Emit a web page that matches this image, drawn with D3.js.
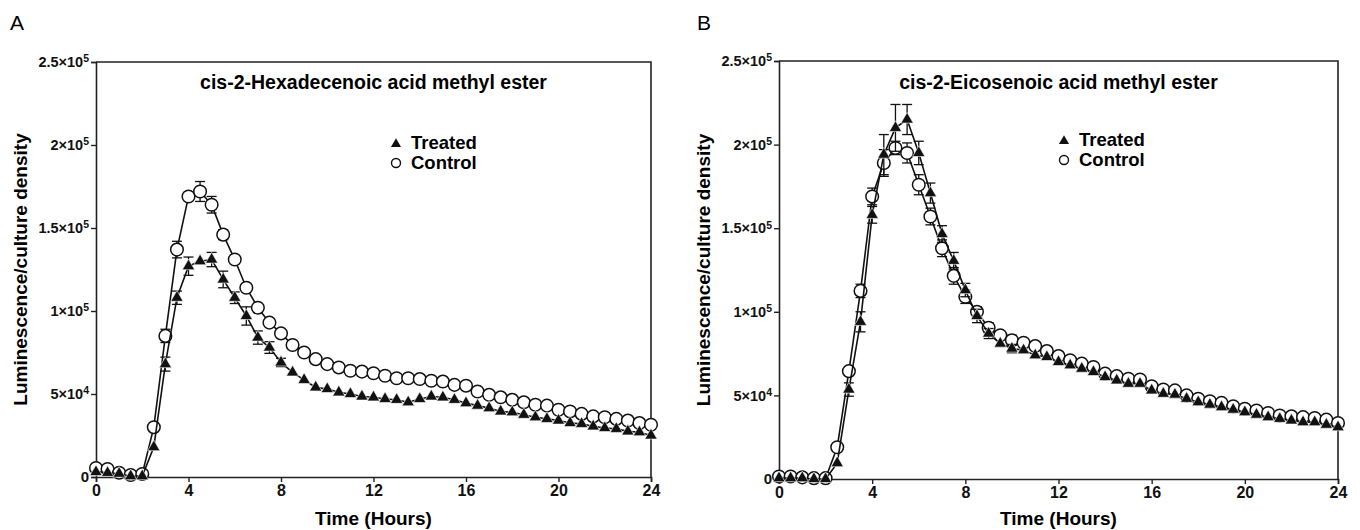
<!DOCTYPE html>
<html>
<head>
<meta charset="utf-8">
<script src="https://cdn.jsdelivr.net/npm/d3@7"></script>
<style>
  body { margin: 0; background: #fff; }
  text { font-family: "Liberation Sans", Arial, sans-serif; }
</style>
</head>
<body>
<div class="chart"></div>
<script>
// time points, every half hour
var hours = d3.range(0, 24.5, 0.5);
var xTicks = [0, 4, 8, 12, 16, 20, 24];
var yTicks = [0, 50000, 100000, 150000, 200000, 250000];
var yTickLabels = [["0", ""], ["5×10", "4"], ["1×10", "5"], ["1.5×10", "5"], ["2×10", "5"], ["2.5×10", "5"]];

// panel A: cis-2-Hexadecenoic acid methyl ester
var aTreated = [3000, 2500, 2000, 500, 500, 18000, 68000, 108000, 127000, 130000, 131000, 119000,
  108000, 97000, 84000, 78000, 69000, 63000, 58500, 54000, 53000, 51000, 50000, 48500,
  48000, 47000, 46500, 45000, 47000, 48500, 48000, 46500, 44500, 43000, 41500, 39500,
  39000, 37500, 36000, 35000, 34000, 32500, 32000, 30500, 29500, 29000, 27500, 27000, 25000];
var aTreatedErr = [0, 0, 0, 0, 0, 0, 4200, 4000, 5500, 0, 4300, 5000,
  3500, 5500, 4000, 3500, 2500, 0, 0, 0, 0, 0, 0, 0,
  0, 0, 0, 0, 0, 0, 0, 0, 0, 0, 0, 0,
  0, 0, 0, 0, 0, 0, 0, 0, 0, 0, 0, 0, 0];
var aControl = [5400, 4800, 2600, 1200, 1800, 30000, 85000, 137000, 169000, 172000, 164000, 146000,
  131000, 114000, 102000, 93000, 86500, 79500, 75000, 71000, 68000, 66000, 64000, 63500,
  62500, 61000, 59500, 59500, 59000, 58000, 57500, 55500, 55000, 51500, 49500, 48000,
  46500, 45000, 43500, 43000, 40500, 39500, 38000, 36500, 36000, 35000, 34000, 32500, 31500];
var aControlErr = [0, 0, 0, 0, 0, 0, 4000, 5000, 0, 6000, 5000, 3000,
  0, 0, 0, 0, 0, 0, 0, 0, 0, 0, 0, 0,
  0, 0, 0, 0, 0, 0, 0, 0, 0, 0, 0, 0,
  0, 0, 0, 0, 0, 0, 0, 0, 0, 0, 0, 0, 0];

// panel B: cis-2-Eicosenoic acid methyl ester
var bTreated = [500, 500, 500, 0, 0, 9500, 53500, 94000, 158000, 194000, 210000, 215000,
  195000, 171000, 146500, 130500, 113000, 97500, 87000, 81000, 78000, 77000, 74000, 73000,
  70000, 68000, 66000, 64000, 61000, 59000, 57000, 57000, 53000, 51000, 50500, 48000,
  46000, 44500, 43000, 41500, 40000, 38500, 37000, 36000, 35000, 34000, 34000, 32500, 31000];
var bTreatedErr = [0, 0, 0, 0, 0, 0, 4000, 6000, 5000, 12000, 14000, 9000,
  7000, 6000, 5000, 5000, 4000, 4000, 3000, 0, 2500, 0, 0, 0,
  0, 0, 0, 0, 0, 0, 0, 0, 0, 0, 0, 0,
  0, 0, 0, 0, 0, 0, 0, 0, 0, 0, 0, 0, 0];
var bControl = [1500, 1500, 1000, 500, 500, 19000, 64500, 112500, 169000, 189000, 198000, 195000,
  176000, 157000, 138000, 121500, 109000, 100000, 90500, 86000, 83000, 81500, 79500, 76500,
  73500, 71000, 69000, 67000, 63000, 61500, 60000, 59500, 55500, 53500, 53000, 50000,
  48000, 46500, 45500, 43500, 42000, 41000, 39500, 38000, 37500, 37000, 36500, 35500, 33500];
var bControlErr = [0, 0, 0, 0, 0, 0, 0, 4000, 5000, 8000, 4000, 6000,
  6000, 5000, 5000, 5000, 4000, 3000, 3000, 0, 3000, 0, 0, 0,
  0, 0, 0, 0, 0, 0, 0, 0, 0, 0, 0, 0,
  0, 0, 0, 0, 0, 0, 0, 0, 0, 0, 0, 0, 0];

var width = 1360;
var height = 530;
var ink = "#222";

var svg = d3
  .select(".chart")
  .append("svg")
  .attr("width", width)
  .attr("height", height);

function drawPanel(opt) {
  var x = d3.scaleLinear().domain([0, 24]).range([opt.left, opt.right]);
  var y = d3.scaleLinear().domain([0, 250000]).range([opt.bottom, opt.top]);
  var g = svg.append("g");

  // panel letter
  g.append("text")
    .attr("x", opt.letterX)
    .attr("y", 30)
    .style("font-size", "21px")
    .text(opt.letter);

  // frame (top and right)
  g.append("path")
    .attr("d", "M" + opt.left + "," + opt.top + "H" + opt.right + "V" + opt.bottom)
    .attr("fill", "none")
    .attr("stroke", ink)
    .attr("stroke-width", 1.6);

  // x axis
  var xAxis = g.append("g")
    .attr("transform", "translate(0," + opt.bottom + ")")
    .call(d3.axisBottom(x).tickValues(xTicks).tickSize(5).tickPadding(3).tickFormat(d3.format("d")));
  xAxis.select(".domain").attr("stroke", ink).attr("stroke-width", 1.6);
  xAxis.selectAll(".tick line").attr("stroke", ink).attr("stroke-width", 1.4);
  xAxis.selectAll(".tick text")
    .attr("fill", "#111")
    .style("font-family", "'Liberation Sans', Arial, sans-serif")
    .style("font-size", "16px")
    .style("font-weight", "bold");

  // y axis
  var yAxis = g.append("g")
    .attr("transform", "translate(" + opt.left + ",0)")
    .call(d3.axisLeft(y).tickValues(yTicks).tickSize(5).tickPadding(2).tickFormat(""));
  yAxis.select(".domain").attr("stroke", ink).attr("stroke-width", 1.6);
  yAxis.selectAll(".tick line").attr("stroke", ink).attr("stroke-width", 1.4);
  yAxis.selectAll(".tick text").each(function (d, i) {
    var t = d3.select(this)
      .attr("fill", "#111")
      .attr("dy", "0.32em")
      .style("font-family", "'Liberation Sans', Arial, sans-serif")
      .style("font-size", i === 0 ? "15px" : "14.5px")
      .style("font-weight", "bold");
    t.append("tspan").text(yTickLabels[i][0]);
    if (yTickLabels[i][1]) {
      t.append("tspan")
        .attr("dy", "-0.45em")
        .style("font-size", "10.5px")
        .text(yTickLabels[i][1]);
    }
  });

  // axis titles
  g.append("text")
    .attr("transform", "translate(" + opt.yTitleX + "," + (opt.top + opt.bottom) / 2 + ") rotate(-90)")
    .attr("text-anchor", "middle")
    .attr("dy", "0.35em")
    .style("font-size", "19px")
    .style("font-weight", "bold")
    .text("Luminescence/culture density");

  g.append("text")
    .attr("x", (opt.left + opt.right) / 2)
    .attr("y", 525)
    .attr("text-anchor", "middle")
    .style("font-size", "19px")
    .style("font-weight", "bold")
    .text("Time (Hours)");

  g.append("text")
    .attr("x", (opt.left + opt.right) / 2)
    .attr("y", 89)
    .attr("text-anchor", "middle")
    .style("font-size", "19.5px")
    .style("font-weight", "bold")
    .text(opt.title);

  var line = d3.line().x(function (d) { return x(d.t); }).y(function (d) { return y(d.v); });

  function series(values, errs, kind) {
    var pts = hours.map(function (t, i) { return { t: t, v: values[i], e: errs[i] }; });
    var s = g.append("g");
    s.append("path")
      .datum(pts)
      .attr("d", line)
      .attr("fill", "none")
      .attr("stroke", "#111")
      .attr("stroke-width", 1.6);
    var eb = s.selectAll(".err").data(pts.filter(function (d) { return d.e > 0; })).enter().append("g");
    eb.append("line")
      .attr("x1", function (d) { return x(d.t); })
      .attr("x2", function (d) { return x(d.t); })
      .attr("y1", function (d) { return y(d.v - d.e); })
      .attr("y2", function (d) { return y(d.v + d.e); })
      .attr("stroke", "#111").attr("stroke-width", 1.3);
    [-1, 1].forEach(function (sign) {
      eb.append("line")
        .attr("x1", function (d) { return x(d.t) - 5; })
        .attr("x2", function (d) { return x(d.t) + 5; })
        .attr("y1", function (d) { return y(d.v + sign * d.e); })
        .attr("y2", function (d) { return y(d.v + sign * d.e); })
        .attr("stroke", "#111").attr("stroke-width", 1.3);
    });
    if (kind === "circle") {
      s.selectAll(".pt").data(pts).enter().append("circle")
        .attr("cx", function (d) { return x(d.t); })
        .attr("cy", function (d) { return y(d.v); })
        .attr("r", 6.3)
        .attr("fill", "#fff")
        .attr("stroke", "#111")
        .attr("stroke-width", 1.5);
    } else {
      s.selectAll(".pt").data(pts).enter().append("path")
        .attr("d", d3.symbol().type(d3.symbolTriangle).size(66))
        .attr("transform", function (d) { return "translate(" + x(d.t) + "," + y(d.v) + ")"; })
        .attr("fill", "#111")
        .attr("stroke", "#fff")
        .attr("stroke-width", 0.6);
    }
  }

  series(opt.control, opt.controlErr, "circle");
  series(opt.treated, opt.treatedErr, "triangle");

  // legend
  var lg = g.append("g").attr("transform", "translate(" + opt.legendX + "," + opt.legendY + ")");
  lg.append("path")
    .attr("d", d3.symbol().type(d3.symbolTriangle).size(44))
    .attr("transform", "translate(0,-5)")
    .attr("fill", "#111");
  lg.append("circle")
    .attr("cx", 0).attr("cy", 14).attr("r", 4.5)
    .attr("fill", "#fff").attr("stroke", "#111").attr("stroke-width", 1.4);
  lg.append("text").attr("x", 15).attr("y", 0)
    .style("font-size", "18.5px").style("font-weight", "bold").text("Treated");
  lg.append("text").attr("x", 15).attr("y", 20)
    .style("font-size", "18.5px").style("font-weight", "bold").text("Control");
}

drawPanel({
  letter: "A", letterX: 10,
  left: 96, right: 651, top: 62, bottom: 477,
  yTitleX: 20,
  title: "cis-2-Hexadecenoic acid methyl ester",
  treated: aTreated, treatedErr: aTreatedErr,
  control: aControl, controlErr: aControlErr,
  legendX: 396, legendY: 149
});

drawPanel({
  letter: "B", letterX: 697,
  left: 779, right: 1338, top: 61, bottom: 479,
  yTitleX: 703,
  title: "cis-2-Eicosenoic acid methyl ester",
  treated: bTreated, treatedErr: bTreatedErr,
  control: bControl, controlErr: bControlErr,
  legendX: 1064, legendY: 146
});
</script>
</body>
</html>
